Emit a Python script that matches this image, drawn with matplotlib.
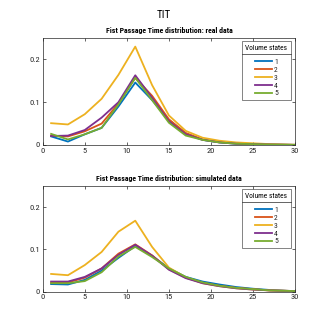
import matplotlib
matplotlib.use("Agg")
import matplotlib.pyplot as plt
from matplotlib.lines import Line2D

# Time steps
steps = [1, 3, 5, 7, 9, 11, 13, 15, 17, 19, 21, 23, 25, 27, 29, 30]

# Real data, one list per volume state
real_1 = [0.020, 0.008, 0.025, 0.040, 0.090, 0.146, 0.105, 0.058, 0.027, 0.012, 0.006, 0.003, 0.002, 0.001, 0.0005, 0.0003]
real_2 = [0.022, 0.020, 0.032, 0.050, 0.097, 0.157, 0.115, 0.060, 0.028, 0.013, 0.007, 0.004, 0.002, 0.001, 0.0005, 0.0003]
real_3 = [0.051, 0.048, 0.072, 0.108, 0.164, 0.230, 0.140, 0.069, 0.033, 0.017, 0.010, 0.006, 0.004, 0.002, 0.001, 0.0005]
real_4 = [0.021, 0.022, 0.035, 0.064, 0.100, 0.163, 0.110, 0.055, 0.025, 0.012, 0.006, 0.003, 0.002, 0.001, 0.0005, 0.0003]
real_5 = [0.026, 0.013, 0.025, 0.040, 0.095, 0.157, 0.105, 0.052, 0.022, 0.012, 0.006, 0.003, 0.002, 0.001, 0.0005, 0.0003]

# Simulated data
sim_1 = [0.018, 0.017, 0.028, 0.050, 0.080, 0.108, 0.085, 0.055, 0.035, 0.024, 0.017, 0.011, 0.007, 0.004, 0.002, 0.0015]
sim_2 = [0.022, 0.022, 0.033, 0.055, 0.090, 0.112, 0.086, 0.053, 0.033, 0.021, 0.014, 0.009, 0.006, 0.003, 0.002, 0.0015]
sim_3 = [0.042, 0.039, 0.063, 0.094, 0.142, 0.168, 0.106, 0.057, 0.034, 0.020, 0.013, 0.008, 0.005, 0.003, 0.002, 0.0015]
sim_4 = [0.024, 0.024, 0.035, 0.055, 0.087, 0.111, 0.085, 0.052, 0.032, 0.020, 0.013, 0.008, 0.005, 0.003, 0.002, 0.0015]
sim_5 = [0.020, 0.020, 0.025, 0.046, 0.083, 0.106, 0.082, 0.055, 0.035, 0.022, 0.014, 0.009, 0.006, 0.003, 0.002, 0.0015]

state_labels = ["1", "2", "3", "4", "5"]
colors = ["#0072BD", "#D95319", "#EDB120", "#7E2F8E", "#77AC30"]

plt.rcParams["font.family"] = ["Roboto Condensed", "DejaVu Sans"]

fig = plt.figure(figsize=(3.27, 3.27), dpi=100)
fig.text(0.5, 0.953, "TIT", ha="center", va="center", fontsize=8)

panels = [
    ([0.1306, 0.5566, 0.772, 0.327], "Fist Passage Time distribution: real data",
     [real_1, real_2, real_3, real_4, real_5]),
    ([0.1306, 0.108, 0.772, 0.323], "Fist Passage Time distribution: simulated data",
     [sim_1, sim_2, sim_3, sim_4, sim_5]),
]

axes = []
for rect, title, series in panels:
    ax = fig.add_axes(rect)
    for vals, lab, c in zip(series, state_labels, colors):
        ax.plot(steps, vals, color=c, lw=1.3, label=lab)
    ax.set_xlim(0, 30)
    ax.set_ylim(0, 0.25)
    ax.set_xticks([0, 5, 10, 15, 20, 25, 30])
    ax.set_yticks([0, 0.1, 0.2])
    ax.set_yticklabels(["0", "0.1", "0.2"])
    ax.tick_params(direction="in", length=2.5, width=0.5, labelsize=6,
                   colors="#262626", top=True, right=True, pad=2)
    for s in ax.spines.values():
        s.set_linewidth(0.5)
        s.set_color("#262626")
    ax.set_title(title, fontsize=5.6, fontweight="bold", pad=4)
    leg = ax.legend(title="Volume states", loc="upper right", fontsize=5.5,
                    title_fontsize=5.3, frameon=True, fancybox=False,
                    handlelength=2.2, handletextpad=0.3, labelspacing=0.2,
                    borderpad=0.45, borderaxespad=0.0,
                    bbox_to_anchor=(0.983, 0.97))
    leg.get_frame().set_edgecolor("#262626")
    leg.get_frame().set_linewidth(0.5)
    leg._legend_box.sep = 5
    for t in leg.get_texts():
        t.set_color("#262626")
    axes.append((ax, leg))

# separator under legend titles (MATLAB style)
fig.canvas.draw()
inv = fig.transFigure.inverted()
for ax, leg in axes:
    box = leg.get_frame().get_window_extent()
    tbox = leg.get_title().get_window_extent()
    y = tbox.y0 - 2.5
    (x0, yy), (x1, _) = inv.transform([(box.x0, y), (box.x1, y)])
    fig.add_artist(Line2D([x0, x1], [yy, yy], color="#262626", lw=0.5,
                          transform=fig.transFigure))

fig.savefig("out.png", dpi=100)
